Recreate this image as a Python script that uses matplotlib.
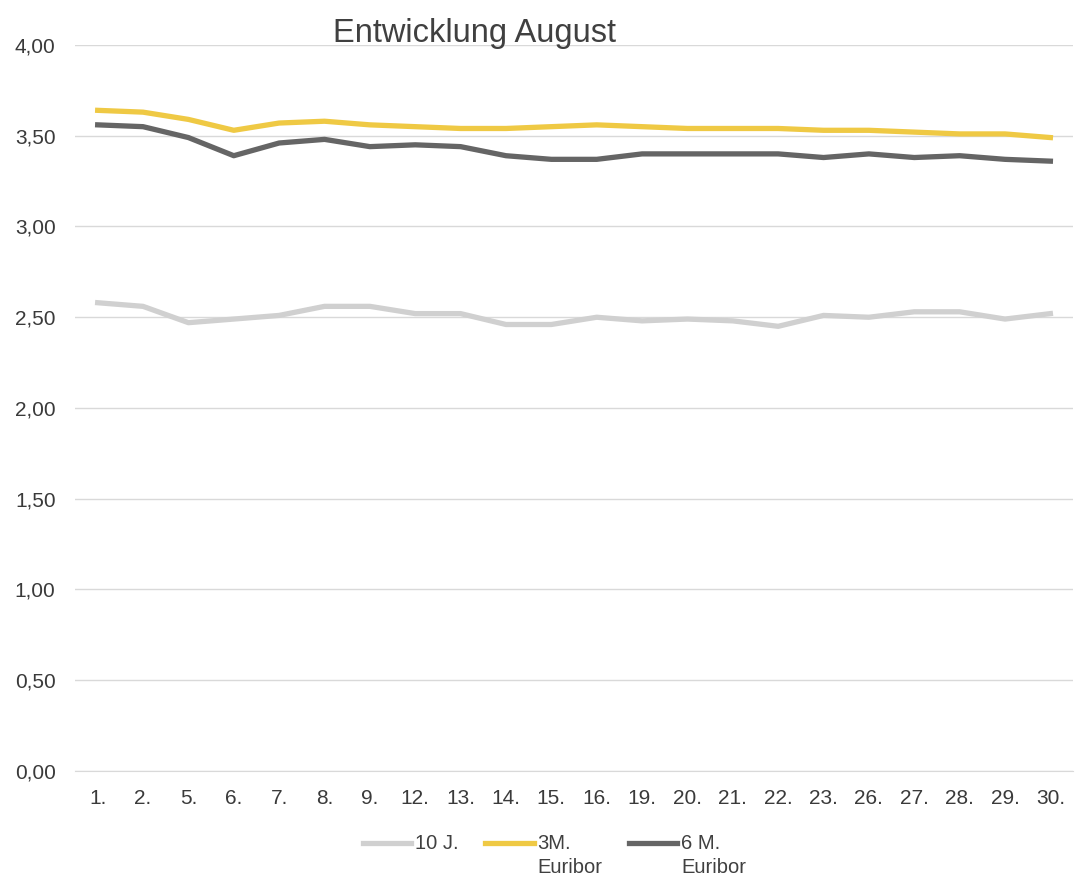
import numpy as np
import matplotlib.pyplot as plt
from matplotlib.ticker import FuncFormatter
from matplotlib.legend_handler import HandlerLine2D

plt.rcParams['font.family'] = ['Liberation Sans', 'DejaVu Sans']

# Data
days = ['1.', '2.', '5.', '6.', '7.', '8.', '9.', '12.', '13.', '14.', '15.',
        '16.', '19.', '20.', '21.', '22.', '23.', '26.', '27.', '28.', '29.', '30.']
ten_j = [2.58, 2.56, 2.47, 2.49, 2.51, 2.56, 2.56, 2.52, 2.52, 2.46, 2.46,
         2.50, 2.48, 2.49, 2.48, 2.45, 2.51, 2.50, 2.53, 2.53, 2.49, 2.52]
euribor_3m = [3.64, 3.63, 3.59, 3.53, 3.57, 3.58, 3.56, 3.55, 3.54, 3.54, 3.55,
              3.56, 3.55, 3.54, 3.54, 3.54, 3.53, 3.53, 3.52, 3.51, 3.51, 3.49]
euribor_6m = [3.56, 3.55, 3.49, 3.39, 3.46, 3.48, 3.44, 3.45, 3.44, 3.39, 3.37,
              3.37, 3.40, 3.40, 3.40, 3.40, 3.38, 3.40, 3.38, 3.39, 3.37, 3.36]
labels = ['10 J.\n', '3M.\nEuribor', '6 M.\nEuribor']

LEG_FS = 14.5
LINESP = 1.3


# legend handle lined up with the first text line (as in Excel)
class FirstLineHandler(HandlerLine2D):
    def create_artists(self, legend, orig_handle, xdescent, ydescent,
                       width, height, fontsize, trans):
        arts = super().create_artists(legend, orig_handle, xdescent, ydescent,
                                      width, height, fontsize, trans)
        for a in arts:
            a.set_ydata(np.asarray(a.get_ydata()) + 0.5 * LINESP * fontsize)
        return arts


fig = plt.figure(figsize=(10.79, 8.91), dpi=100)
ax = fig.add_axes([0.0695, 0.1347, 0.925, 0.8148])

x = range(len(days))
l1, = ax.plot(x, ten_j, color='#d0d0d0', lw=3.8, label=labels[0])
l2, = ax.plot(x, euribor_3m, color='#efc944', lw=3.8, label=labels[1])
l3, = ax.plot(x, euribor_6m, color='#656565', lw=3.8, label=labels[2])

ax.set_xlim(-0.5, len(days) - 0.5)
ax.set_ylim(0, 4)
ax.set_yticks([0, 0.5, 1, 1.5, 2, 2.5, 3, 3.5, 4])
ax.yaxis.set_major_formatter(FuncFormatter(lambda v, p: f'{v:.2f}'.replace('.', ',')))
ax.set_xticks(list(x))
ax.set_xticklabels(days)
ax.grid(axis='y', color='#d9d9d9', lw=1)
ax.set_axisbelow(True)
for s in ['top', 'right', 'left']:
    ax.spines[s].set_visible(False)
ax.spines['bottom'].set_color('#d9d9d9')
ax.tick_params(length=0, labelsize=15, colors='#3a3a3a')
ax.tick_params(axis='x', pad=13)
ax.tick_params(axis='y', pad=14)

fig.text(0.44, 0.962, 'Entwicklung August', fontsize=23.5, color='#404040',
         ha='center', va='center')

hmap = {h: FirstLineHandler() for h in (l1, l2, l3)}
leg = fig.legend(handles=[l1, l2, l3], loc='center', bbox_to_anchor=(0.514, 0.04),
                 ncol=3, frameon=False, fontsize=LEG_FS, handlelength=2.4,
                 handletextpad=0.2, columnspacing=1.3, labelcolor='#404040',
                 handler_map=hmap)
for t in leg.get_texts():
    t.set_linespacing(LINESP)

fig.savefig('out.png', dpi=100)
